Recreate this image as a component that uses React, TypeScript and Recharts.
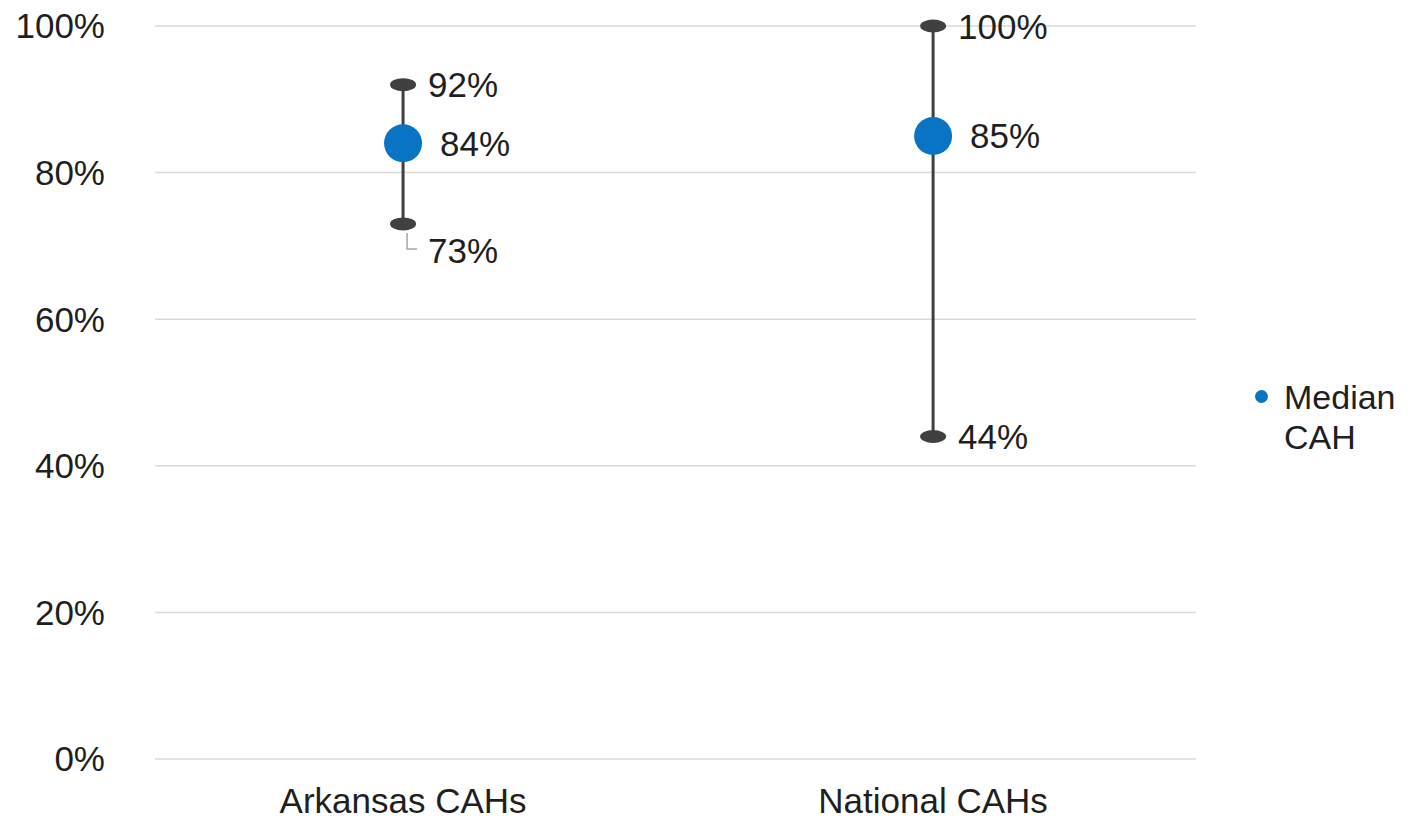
import React from 'react'
import {
  ScatterChart,
  Scatter,
  XAxis,
  YAxis,
  CartesianGrid,
  ErrorBar,
  Legend,
} from 'recharts'

// Share of CAHs — range (min / max) and median, Arkansas vs national
const categories = ['Arkansas CAHs', 'National CAHs']
const minValues = [73, 44]
const medianValues = [84, 85]
const maxValues = [92, 100]
const yTicks = [0, 20, 40, 60, 80, 100]

const rows = categories.map((name, i) => ({
  pos: i,
  name,
  min: minValues[i],
  median: medianValues[i],
  max: maxValues[i],
  err: [medianValues[i] - minValues[i], maxValues[i] - medianValues[i]],
}))

const FONT = '"Liberation Sans", Arial, sans-serif'
const TEXT = '#1f1f1f'
const DARK = '#404040'
const BLUE = '#0A74C4'

// extra vertical shift for the low-end label (Arkansas label sits below its cap)
const minLabelShift = [27, 0]

const capShape = (key: 'min' | 'max') => (props: any) => {
  const { cx, cy, payload } = props
  const shift = key === 'min' ? minLabelShift[payload.pos] : 0
  return (
    <g>
      <ellipse cx={cx} cy={cy} rx={13} ry={6.5} fill={DARK} />
      {shift > 0 && (
        <path
          d={`M${cx + 4},${cy + 9} L${cx + 4},${cy + shift - 2} L${cx + 14},${cy + shift - 2}`}
          stroke="#a6a6a6"
          strokeWidth={1.5}
          fill="none"
        />
      )}
      <text
        x={cx + 25}
        y={cy + shift}
        dominantBaseline="central"
        fontSize={35}
        fontFamily={FONT}
        fill={TEXT}
      >
        {`${payload[key]}%`}
      </text>
    </g>
  )
}

const medianShape = (props: any) => {
  const { cx, cy, payload } = props
  return (
    <g>
      <circle cx={cx} cy={cy} r={19} fill={BLUE} />
      <text
        x={cx + 37}
        y={cy}
        dominantBaseline="central"
        fontSize={35}
        fontFamily={FONT}
        fill={TEXT}
      >
        {`${payload.median}%`}
      </text>
    </g>
  )
}

const renderLegend = (props: any) => {
  const items = (props.payload || []).filter((p: any) => p.type !== 'none')
  return (
    <div>
      {items.map((item: any) => {
        const words = String(item.value).split(' ')
        return (
          <div key={item.value} style={{ display: 'flex', alignItems: 'flex-start' }}>
            <svg width={13} height={13} style={{ marginTop: 13 }}>
              <circle cx={6.5} cy={6.5} r={6.5} fill={BLUE} />
            </svg>
            <div
              style={{
                marginLeft: 16,
                fontSize: 34,
                lineHeight: '40px',
                fontFamily: FONT,
                color: TEXT,
              }}
            >
              {words[0]}
              <br />
              {words.slice(1).join(' ')}
            </div>
          </div>
        )
      })}
    </div>
  )
}

export default function App() {
  return (
    <div style={{ width: 1409, height: 821, background: '#fff' }}>
      <style>{'body { margin: 0; }'}</style>
      <ScatterChart
        width={1409}
        height={821}
        margin={{ top: 26, right: 53, bottom: 0, left: 0 }}
      >
        <CartesianGrid horizontal vertical={false} stroke="#d9d9d9" strokeWidth={1.5} />
        <XAxis
          type="number"
          dataKey="pos"
          domain={[-0.468, 1.496]}
          ticks={[0, 1]}
          tickFormatter={(v: number) => categories[v] ?? ''}
          axisLine={false}
          tickLine={false}
          tickSize={0}
          tickMargin={29}
          height={62}
          tick={{ fill: TEXT, fontSize: 35, fontFamily: FONT }}
        />
        <YAxis
          type="number"
          domain={[0, 100]}
          ticks={yTicks}
          tickFormatter={(v: number) => `${v}%`}
          axisLine={false}
          tickLine={false}
          tickSize={0}
          tickMargin={50}
          width={155}
          tick={{ fill: TEXT, fontSize: 35, fontFamily: FONT }}
        />
        <Legend
          layout="vertical"
          align="right"
          verticalAlign="middle"
          content={renderLegend}
          wrapperStyle={{ width: 160, left: 1255, top: 377 }}
        />
        <Scatter
          name="Median CAH"
          data={rows}
          dataKey="median"
          fill={BLUE}
          shape={medianShape}
          isAnimationActive={false}
        >
          <ErrorBar
            dataKey="err"
            direction="y"
            width={0}
            stroke={DARK}
            strokeWidth={3}
            isAnimationActive={false}
          />
        </Scatter>
        <Scatter
          name="Max"
          data={rows}
          dataKey="max"
          legendType="none"
          shape={capShape('max')}
          isAnimationActive={false}
        />
        <Scatter
          name="Min"
          data={rows}
          dataKey="min"
          legendType="none"
          shape={capShape('min')}
          isAnimationActive={false}
        />
      </ScatterChart>
    </div>
  )
}
